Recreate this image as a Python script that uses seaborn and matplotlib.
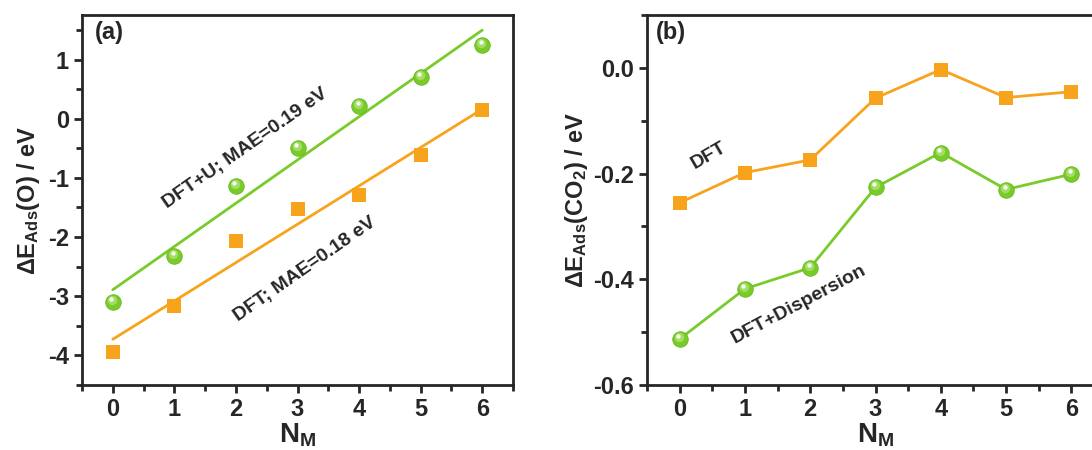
import matplotlib
matplotlib.use("Agg")
import matplotlib.pyplot as plt
import matplotlib.transforms as mtransforms
from matplotlib.ticker import MultipleLocator, FormatStrFormatter
import seaborn as sns
import numpy as np

# datos
n_m = [0, 1, 2, 3, 4, 5, 6]
o_dft_u = [-3.10, -2.32, -1.14, -0.50, 0.22, 0.71, 1.25]
o_dft = [-3.95, -3.17, -2.07, -1.52, -1.29, -0.62, 0.14]
co2_dft = [-0.255, -0.198, -0.174, -0.057, -0.003, -0.056, -0.045]
co2_disp = [-0.513, -0.418, -0.378, -0.226, -0.160, -0.230, -0.201]

ORANGE = '#F8A31C'
GREEN = '#79CB2A'

sns.set_style('ticks')
plt.rcParams['font.family'] = ['Liberation Sans', 'DejaVu Sans']
plt.rcParams['font.weight'] = 'bold'
plt.rcParams['axes.unicode_minus'] = False
plt.rcParams['mathtext.fontset'] = 'custom'
plt.rcParams['mathtext.rm'] = 'Liberation Sans:bold'
plt.rcParams['mathtext.it'] = 'Liberation Sans:bold'
plt.rcParams['mathtext.bf'] = 'Liberation Sans:bold'

fig = plt.figure(figsize=(10.92, 4.5), dpi=100)
ax1 = fig.add_axes([0.0751, 0.1444, 0.3947, 0.822])
ax2 = fig.add_axes([0.5925, 0.1444, 0.4185, 0.822])


def spheres(ax, x, y):
    """Marcadores tipo esfera (circulo + brillo)"""
    ax.scatter(x, y, s=125, color=GREEN, edgecolor='#6BB823', linewidth=0.6, zorder=3)
    shift = mtransforms.offset_copy(ax.transData, fig=fig, x=-1, y=2, units='dots')
    ax.scatter(x, y, s=45, color='#A3DD66', linewidth=0, zorder=4, transform=shift)
    shift2 = mtransforms.offset_copy(ax.transData, fig=fig, x=-1.5, y=3, units='dots')
    ax.scatter(x, y, s=10, color='white', alpha=0.9, linewidth=0, zorder=5, transform=shift2)


def style_axis(ax):
    for s in ax.spines.values():
        s.set_linewidth(2)
        s.set_visible(True)
    ax.tick_params(which='major', direction='out', length=6, width=2, labelsize=17)
    ax.tick_params(which='minor', direction='out', length=4, width=2)
    for lab in ax.get_xticklabels() + ax.get_yticklabels():
        lab.set_fontweight('bold')


# Panel (a)
sns.regplot(x=n_m, y=o_dft_u, ax=ax1, scatter=False, ci=None,
            line_kws=dict(color=GREEN, lw=2))
sns.regplot(x=n_m, y=o_dft, ax=ax1, scatter=False, ci=None,
            line_kws=dict(color=ORANGE, lw=2))
spheres(ax1, n_m, o_dft_u)
ax1.scatter(n_m, o_dft, s=95, marker='s', color=ORANGE, linewidth=0, zorder=3)

ax1.set_xlim(-0.5, 6.5)
ax1.set_ylim(-4.5, 1.75)
ax1.xaxis.set_major_locator(MultipleLocator(1))
ax1.xaxis.set_minor_locator(MultipleLocator(0.5))
ax1.yaxis.set_major_locator(MultipleLocator(1))
ax1.yaxis.set_minor_locator(MultipleLocator(0.5))
style_axis(ax1)
ax1.set_xlabel(r'N$_{\mathrm{M}}$', fontsize=20, fontweight='bold', labelpad=0)
ax1.set_ylabel(r'$\Delta$E$_{\mathrm{Ads}}$(O) / eV', fontsize=17, fontweight='bold', labelpad=4)
ax1.text(0.03, 0.985, '(a)', transform=ax1.transAxes, fontsize=17, fontweight='bold',
         ha='left', va='top')
ax1.text(2.15, -0.50, 'DFT+U; MAE=0.19 eV', rotation=35, rotation_mode='anchor',
         ha='center', va='center', fontsize=14, fontweight='bold')
ax1.text(3.12, -2.55, 'DFT; MAE=0.18 eV', rotation=35, rotation_mode='anchor',
         ha='center', va='center', fontsize=14, fontweight='bold')

# Panel (b)
sns.lineplot(x=n_m, y=co2_dft, ax=ax2, color=ORANGE, lw=2, zorder=2)
sns.lineplot(x=n_m, y=co2_disp, ax=ax2, color=GREEN, lw=2, zorder=2)
ax2.scatter(n_m, co2_dft, s=95, marker='s', color=ORANGE, linewidth=0, zorder=3)
spheres(ax2, n_m, co2_disp)

ax2.set_xlim(-0.5, 6.5)
ax2.set_ylim(-0.6, 0.1)
ax2.xaxis.set_major_locator(MultipleLocator(1))
ax2.xaxis.set_minor_locator(MultipleLocator(0.5))
ax2.yaxis.set_major_locator(MultipleLocator(0.2))
ax2.yaxis.set_minor_locator(MultipleLocator(0.1))
ax2.yaxis.set_major_formatter(FormatStrFormatter('%.1f'))
style_axis(ax2)
ax2.set_xlabel(r'N$_{\mathrm{M}}$', fontsize=20, fontweight='bold', labelpad=0)
ax2.set_ylabel(r'$\Delta$E$_{\mathrm{Ads}}$(CO$_2$) / eV', fontsize=17, fontweight='bold', labelpad=2)
ax2.text(0.02, 0.985, '(b)', transform=ax2.transAxes, fontsize=17, fontweight='bold',
         ha='left', va='top')
ax2.text(0.45, -0.165, 'DFT', rotation=30, rotation_mode='anchor',
         ha='center', va='center', fontsize=14, fontweight='bold')
ax2.text(1.82, -0.447, 'DFT+Dispersion', rotation=28, rotation_mode='anchor',
         ha='center', va='center', fontsize=14, fontweight='bold')

fig.savefig('out.png', dpi=100)
